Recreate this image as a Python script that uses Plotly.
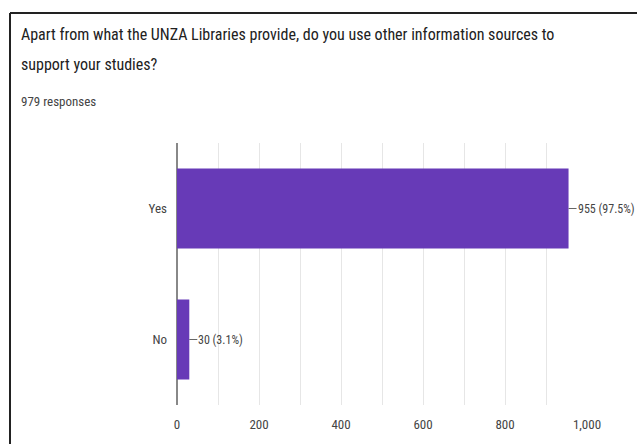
import plotly.graph_objects as go


answers = ["Yes", "No"]
counts = [955, 30]
percents = [97.5, 3.1]

question_line1 = "Apart from what the UNZA Libraries provide, do you use other information sources to"
question_line2 = "support your studies?"
responses_text = "979 responses"

x_ticks = [0, 200, 400, 600, 800, 1000]

FONT = "Liberation Sans Narrow, Roboto Condensed, DejaVu Sans Condensed, sans-serif"
PURPLE = "#673ab7"

W, H = 637, 444
# plot area in page pixels: x 177..587, y 143..405
L, R, T, B = 177, 50, 143, 39
PW = W - L - R
PH = H - T - B


def px_x(px):
    return (px - L) / PW


def px_y(py):
    return (H - B - py) / PH


fig = go.Figure()

fig.add_trace(
    go.Bar(
        x=counts,
        y=answers,
        orientation="h",
        marker=dict(color=PURPLE, line=dict(width=0)),
        width=0.61,
        showlegend=False,
        hoverinfo="skip"
    )
)

annotations = []

for a, c, p in zip(answers, counts, percents):
    annotations.append(
        dict(
            x=c,
            y=a,
            xref="x",
            yref="y",
            text=f"{c:,} ({p}%)",
            showarrow=True,
            arrowhead=0,
            arrowwidth=1,
            arrowcolor="#666",
            ax=8,
            ay=0,
            xanchor="left",
            yanchor="middle",
            borderpad=0,
            font=dict(family=FONT, size=12, color="#444")
        )
    )

annotations += [
    dict(
        x=px_x(19), y=px_y(34), xref="paper", yref="paper",
        text=question_line1, showarrow=False,
        xanchor="left", yanchor="middle",
        font=dict(family=FONT, size=16, color="#212121")
    ),
    dict(
        x=px_x(19), y=px_y(64), xref="paper", yref="paper",
        text=question_line2, showarrow=False,
        xanchor="left", yanchor="middle",
        font=dict(family=FONT, size=16, color="#212121")
    ),
    dict(
        x=px_x(19), y=px_y(101), xref="paper", yref="paper",
        text=responses_text, showarrow=False,
        xanchor="left", yanchor="middle",
        font=dict(family=FONT, size=13, color="#444")
    ),
]

fig.update_layout(
    width=W,
    height=H,
    margin=dict(l=L, r=R, t=T, b=B, pad=0),
    paper_bgcolor="white",
    plot_bgcolor="white",
    font=dict(family=FONT, size=13, color="#444"),
    annotations=annotations,
    shapes=[
        dict(
            type="line", xref="paper", yref="paper",
            x0=px_x(10), y0=px_y(13), x1=px_x(645), y1=px_y(13),
            line=dict(color="#222", width=2)
        ),
        dict(
            type="line", xref="paper", yref="paper",
            x0=px_x(10), y0=px_y(13), x1=px_x(10), y1=px_y(450),
            line=dict(color="#222", width=2)
        ),
    ]
)

fig.update_xaxes(
    range=[0, 1000],
    tickvals=x_ticks,
    tickformat=",",
    showgrid=True,
    gridcolor="#e6e6e6",
    gridwidth=1,
    minor=dict(dtick=100, showgrid=True, gridcolor="#e6e6e6", gridwidth=1),
    zeroline=True,
    zerolinecolor="#888",
    zerolinewidth=2,
    showline=False,
    ticks="",
    ticklabelstandoff=10,
    tickfont=dict(family=FONT, size=13, color="#444")
)

fig.update_yaxes(
    categoryorder="array",
    categoryarray=answers[::-1],
    showgrid=False,
    showline=False,
    ticks="",
    ticklabelstandoff=9,
    tickfont=dict(family=FONT, size=13, color="#444")
)

# drop the page's default body margin so the figure fills the window
fig.write_html(
    "out.html",
    config={"displayModeBar": False},
    post_script="document.body.style.margin='0';document.body.style.overflow='hidden';"
)
